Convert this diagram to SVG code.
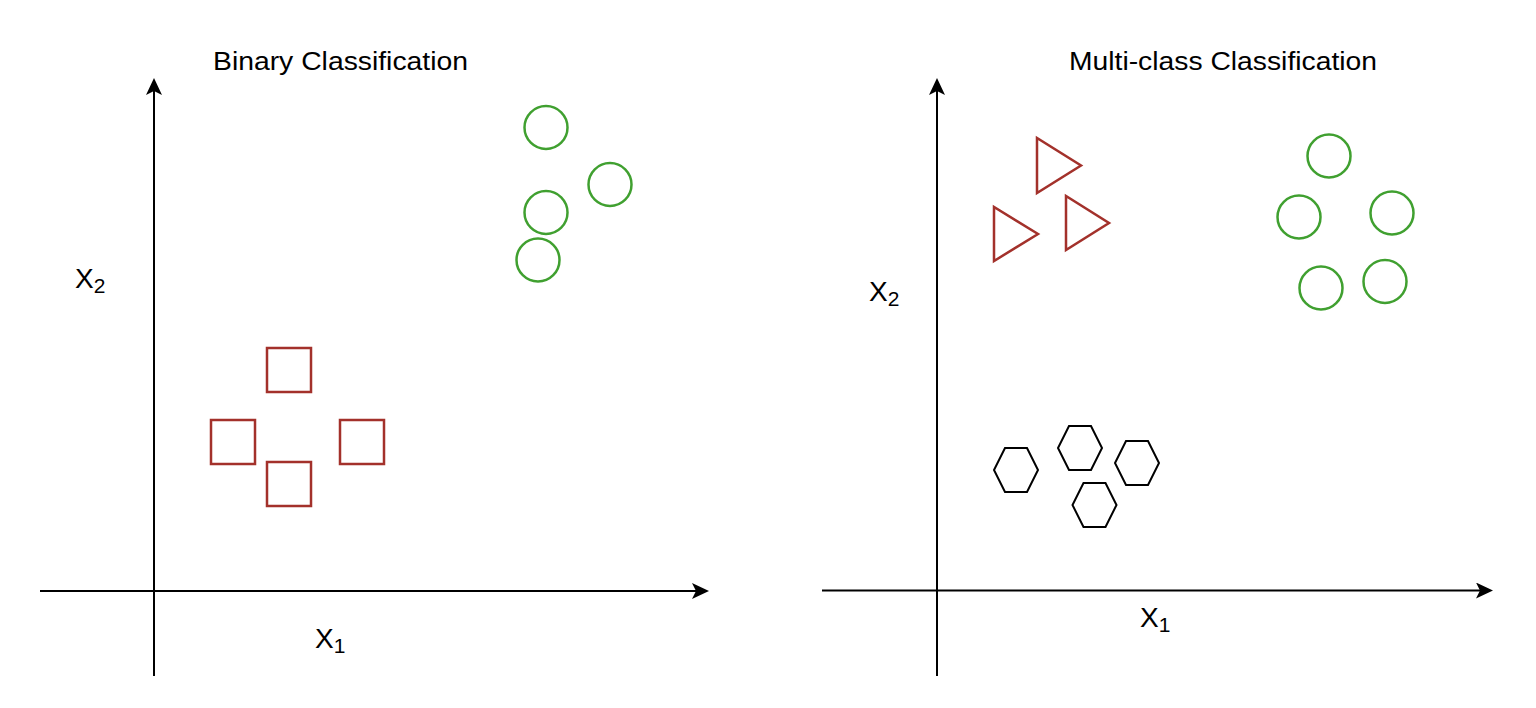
<svg xmlns="http://www.w3.org/2000/svg" width="1536" height="708" viewBox="0 0 1536 708">
<defs>
<style>
.axis{stroke:#000;stroke-width:2;fill:none}
.red{stroke:#a3312b;stroke-width:2.5;fill:none}
.green{stroke:#40a030;stroke-width:2.5;fill:none}
.hex{stroke:#000;stroke-width:2;fill:none}
.title{font-family:"Liberation Sans",Arial,sans-serif;font-size:25px;fill:#000}
.lbl{font-family:"Liberation Sans",Arial,sans-serif;font-size:28px;fill:#000}
.sub{font-size:21px}
</style>
<marker id="arr" viewBox="0 0 18 16" refX="4" refY="8" markerWidth="18" markerHeight="16" markerUnits="userSpaceOnUse" orient="auto">
<path d="M0,0 L17,8 L0,16 L4,8 Z" fill="#000"/>
</marker>
<polygon id="hexshape" points="11,0 33,0 44,22 33,44 11,44 0,22"/>
</defs>
<rect width="1536" height="708" fill="#fff"/>

<g id="connectors">
<line class="axis" x1="154" y1="676" x2="154" y2="91" marker-end="url(#arr)"/>
<line class="axis" x1="40" y1="591" x2="696" y2="591" marker-end="url(#arr)"/>
<line class="axis" x1="937" y1="676" x2="937" y2="91" marker-end="url(#arr)"/>
<line class="axis" x1="822" y1="590.5" x2="1480" y2="590.5" marker-end="url(#arr)"/>
</g>

<g id="binary-title"><text class="title" x="213" y="70" textLength="255" lengthAdjust="spacingAndGlyphs">Binary Classification</text></g>
<g id="multi-title"><text class="title" x="1069" y="70" textLength="308" lengthAdjust="spacingAndGlyphs">Multi-class Classification</text></g>

<g id="left-x2"><text class="lbl" x="75" y="288">X<tspan class="sub" dy="5">2</tspan></text></g>
<g id="left-x1"><text class="lbl" x="315" y="648">X<tspan class="sub" dy="5">1</tspan></text></g>
<g id="right-x2"><text class="lbl" x="869" y="301">X<tspan class="sub" dy="5">2</tspan></text></g>
<g id="right-x1"><text class="lbl" x="1140" y="627">X<tspan class="sub" dy="5">1</tspan></text></g>

<g id="left-circles">
<circle class="green" cx="546" cy="127.5" r="21.5"/>
<circle class="green" cx="610" cy="184.5" r="21.5"/>
<circle class="green" cx="546" cy="212.5" r="21.5"/>
<circle class="green" cx="538" cy="260" r="21.5"/>
</g>

<g id="left-squares">
<rect class="red" x="267" y="348" width="44" height="44"/>
<rect class="red" x="211" y="420" width="44" height="44"/>
<rect class="red" x="340" y="420" width="44" height="44"/>
<rect class="red" x="267" y="462" width="44" height="44"/>
</g>

<g id="right-triangles">
<polygon class="red" points="1037,138 1037,193 1081,165.5"/>
<polygon class="red" points="994,207 994,261 1038,234"/>
<polygon class="red" points="1066,196 1066,250 1109,223"/>
</g>

<g id="right-circles">
<circle class="green" cx="1329" cy="156" r="21.5"/>
<circle class="green" cx="1299" cy="217" r="21.5"/>
<circle class="green" cx="1392" cy="213" r="21.5"/>
<circle class="green" cx="1321" cy="288" r="21.5"/>
<circle class="green" cx="1385" cy="281.5" r="21.5"/>
</g>

<g id="right-hexagons">
<use href="#hexshape" class="hex" x="994" y="448"/>
<use href="#hexshape" class="hex" x="1058" y="426"/>
<use href="#hexshape" class="hex" x="1115" y="441"/>
<use href="#hexshape" class="hex" x="1072.5" y="483"/>
</g>
</svg>
